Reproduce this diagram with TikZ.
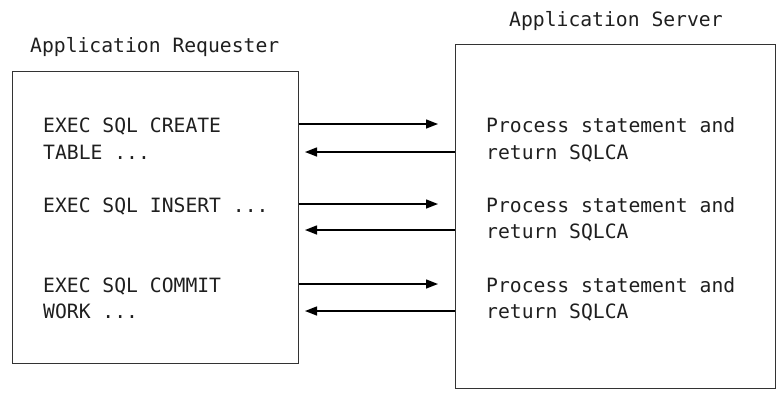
\documentclass[tikz,border=0pt]{standalone}
\usepackage{fontspec}
\setmonofont{DejaVu Sans Mono}
\usetikzlibrary{arrows.meta}
\begin{document}
\begin{tikzpicture}[x=1pt,y=-1pt,
  panel/.style={draw=black!80, line width=1.4pt, anchor=north west, inner sep=0pt},
  txt/.style={anchor=base west, inner sep=0pt, text=black!88,
    font=\ttfamily\fontsize{19.7}{24}\selectfont},
  arr/.style={draw=black, line width=1.4pt, -{Triangle[length=12pt,width=9pt]}}]
\useasboundingbox (0,0) rectangle (780,392);
% boxes
\node[panel, minimum width=286pt, minimum height=292pt] (L) at (12,71) {};
\node[panel, minimum width=320pt, minimum height=344pt] (R) at (455,44) {};
% titles
\node[txt] (tL) at (30,52) {Application Requester};
\node[txt] (tR) at (509,26) {Application Server};
% left texts
\node[txt] (l1a) at (43,132) {EXEC SQL CREATE};
\node[txt] (l1b) at (43,159) {TABLE ...};
\node[txt] (l2a) at (43,212) {EXEC SQL INSERT ...};
\node[txt] (l3a) at (43,292) {EXEC SQL COMMIT};
\node[txt] (l3b) at (43,318) {WORK ...};
% right texts
\node[txt] (r1a) at (486,132) {Process statement and};
\node[txt] (r1b) at (486,159) {return SQLCA};
\node[txt] (r2a) at (486,212) {Process statement and};
\node[txt] (r2b) at (486,238) {return SQLCA};
\node[txt] (r3a) at (486,292) {Process statement and};
\node[txt] (r3b) at (486,318) {return SQLCA};
% arrow ends
\coordinate (a1) at (438,124);
\coordinate (a2) at (438,204);
\coordinate (a3) at (438,284);
\coordinate (b1) at (305,152);
\coordinate (b2) at (305,230);
\coordinate (b3) at (305,311);
\draw[arr] (L.east |- a1) -- (a1);
\draw[arr] (R.west |- b1) -- (b1);
\draw[arr] (L.east |- a2) -- (a2);
\draw[arr] (R.west |- b2) -- (b2);
\draw[arr] (L.east |- a3) -- (a3);
\draw[arr] (R.west |- b3) -- (b3);
\end{tikzpicture}
\end{document}
